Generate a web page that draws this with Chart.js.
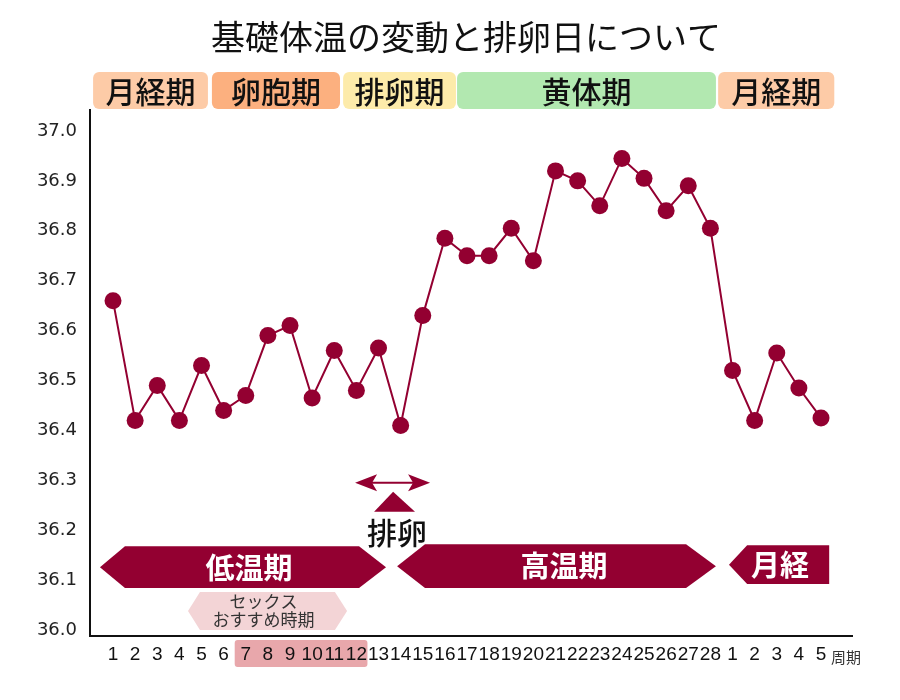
<!DOCTYPE html>
<html lang="ja">
<head>
<meta charset="utf-8">
<title>基礎体温の変動と排卵日について</title>
<script src="https://cdn.jsdelivr.net/npm/chart.js@4.4.1/dist/chart.umd.min.js"></script>
<style>
  html, body { margin: 0; padding: 0; background: #fff; }
  #wrap { width: 900px; height: 700px; }
</style>
</head>
<body>
<div id="wrap"><canvas id="bbtChart" width="900" height="700"></canvas></div>
<script>
const chartTitle = '基礎体温の変動と排卵日について';
const dayLabels = ['1','2','3','4','5','6','7','8','9','10','11','12','13','14','15','16','17','18','19','20',
                   '21','22','23','24','25','26','27','28','1','2','3','4','5'];
const temps = [36.66, 36.42, 36.49, 36.42, 36.53, 36.44, 36.47, 36.59, 36.61, 36.465, 36.56, 36.48, 36.565, 36.41,
               36.63, 36.785, 36.75, 36.75, 36.805, 36.74, 36.92, 36.90, 36.85, 36.945, 36.905, 36.84, 36.89, 36.805,
               36.52, 36.42, 36.555, 36.485, 36.425];
const yTicks = [36.0, 36.1, 36.2, 36.3, 36.4, 36.5, 36.6, 36.7, 36.8, 36.9, 37.0];

const phaseNames = ['月経期', '卵胞期', '排卵期', '黄体期', '月経期'];
const phaseColors = ['#fdcba7', '#fcb07f', '#fdebaa', '#b2e8b0', '#fdcba7'];
const phaseSpans = [[0.1, 5.29], [5.47, 11.26], [11.4, 16.5], [16.55, 28.25], [28.35, 33.6]];

const crimson = '#930031';
const jpFont = '"Noto Sans CJK JP", "Noto Sans", sans-serif';

// six-sided arrow: left tip, left shoulder, right shoulder, right tip
function hexArrow(ctx, x0, x1, x2, x3, top, bottom) {
    const mid = (top + bottom) / 2;
    ctx.beginPath();
    ctx.moveTo(x0, mid);
    ctx.lineTo(x1, top);
    ctx.lineTo(x2, top);
    ctx.lineTo(x3, mid);
    ctx.lineTo(x2, bottom);
    ctx.lineTo(x1, bottom);
    ctx.closePath();
    ctx.fill();
}

const decorPlugin = {
    id: 'decor',
    beforeDraw(chart) {
        const {ctx, scales: {x}} = chart;
        // pink band behind day labels 7-12
        const l = x.getPixelForValue(6.5), r = x.getPixelForValue(12.5);
        ctx.save();
        ctx.fillStyle = '#e8a7ab';
        ctx.beginPath();
        ctx.roundRect(l, 640, r - l, 27, 3);
        ctx.fill();
        ctx.restore();
    },
    afterDraw(chart) {
        const {ctx, scales: {x, y}} = chart;
        const px = v => x.getPixelForValue(v);
        const py = v => y.getPixelForValue(v);
        ctx.save();
        ctx.textAlign = 'center';
        ctx.textBaseline = 'middle';

        // title
        ctx.fillStyle = '#111';
        ctx.font = '34px ' + jpFont;
        ctx.fillText(chartTitle, 466, 37);

        // phase boxes on top
        phaseNames.forEach((name, i) => {
            const l = px(phaseSpans[i][0]), r = px(phaseSpans[i][1]);
            ctx.fillStyle = phaseColors[i];
            ctx.beginPath();
            ctx.roundRect(l, 72, r - l, 37, 6);
            ctx.fill();
            ctx.fillStyle = '#111';
            ctx.font = '500 30px ' + jpFont;
            ctx.fillText(name, (l + r) / 2, 92);
        });

        // low / high / menstruation arrows
        ctx.fillStyle = crimson;
        hexArrow(ctx, px(0.41), px(1.54), px(12.12), px(13.34), py(36.168), py(36.084));
        hexArrow(ctx, px(13.84), px(15.10), px(26.90), px(28.25), py(36.172), py(36.084));
        hexArrow(ctx, px(28.84), px(29.66), px(33.37), px(33.37), py(36.170), py(36.092));
        ctx.fillStyle = '#fff';
        ctx.font = 'bold 29px ' + jpFont;
        ctx.fillText('低温期', px(7.15), py(36.125));
        ctx.fillText('高温期', px(21.38), py(36.128));
        ctx.fillText('月経', px(31.15), py(36.131));

        // ovulation double arrow + triangle
        const ay = py(36.295), al = px(11.94), ar = px(15.33);
        ctx.strokeStyle = crimson;
        ctx.lineWidth = 2;
        ctx.beginPath();
        ctx.moveTo(al + 10, ay);
        ctx.lineTo(ar - 10, ay);
        ctx.stroke();
        ctx.fillStyle = crimson;
        ctx.beginPath();
        ctx.moveTo(al, ay); ctx.lineTo(al + 22, ay - 8.5); ctx.lineTo(al + 17, ay); ctx.lineTo(al + 22, ay + 8.5);
        ctx.closePath(); ctx.fill();
        ctx.beginPath();
        ctx.moveTo(ar, ay); ctx.lineTo(ar - 22, ay - 8.5); ctx.lineTo(ar - 17, ay); ctx.lineTo(ar - 22, ay + 8.5);
        ctx.closePath(); ctx.fill();
        ctx.beginPath();
        ctx.moveTo(px(13.66), py(36.277));
        ctx.lineTo(px(14.65), py(36.237));
        ctx.lineTo(px(12.80), py(36.237));
        ctx.closePath(); ctx.fill();
        ctx.fillStyle = '#111';
        ctx.font = '500 30px ' + jpFont;
        ctx.fillText('排卵', px(13.84), py(36.195));

        // recommended period hexagon
        ctx.fillStyle = '#f3d4d6';
        hexArrow(ctx, px(4.39), px(4.93), px(11.03), px(11.58), py(36.076), py(36.0));
        ctx.fillStyle = '#333';
        ctx.font = '17px ' + jpFont;
        ctx.fillText('セックス', px(7.8), 602);
        ctx.fillText('おすすめ時期', px(7.8), 620);

        // axis unit
        ctx.font = '15px ' + jpFont;
        ctx.fillStyle = '#333';
        ctx.fillText('周期', 846, 657);
        ctx.restore();
    }
};

new Chart(document.getElementById('bbtChart'), {
    type: 'line',
    data: {
        datasets: [{
            data: temps.map((t, i) => ({x: i + 1, y: t})),
            borderColor: crimson,
            backgroundColor: crimson,
            borderWidth: 2,
            pointRadius: 8.5,
            pointHoverRadius: 8.5,
            pointBorderWidth: 0,
            tension: 0
        }]
    },
    options: {
        responsive: false,
        animation: false,
        layout: { padding: { left: 10, right: 48, top: 110, bottom: 0 } },
        plugins: {
            legend: { display: false },
            tooltip: { enabled: false },
            title: { display: false }
        },
        scales: {
            x: {
                type: 'linear',
                min: -0.04,
                max: 34.4,
                grid: { display: false, drawTicks: false },
                border: { display: true, color: '#111', width: 2 },
                afterBuildTicks: s => { s.ticks = dayLabels.map((_, i) => ({value: i + 1})); },
                afterFit: s => { s.height = 64; },
                ticks: {
                    autoSkip: false,
                    maxRotation: 0,
                    minRotation: 0,
                    padding: 7,
                    color: '#111',
                    font: { size: 19, family: '"Liberation Sans", Arial, sans-serif' },
                    callback: v => dayLabels[Math.round(v) - 1]
                }
            },
            y: {
                min: 35.988,
                max: 37.042,
                grid: { display: false, drawTicks: false },
                border: { display: true, color: '#111', width: 2 },
                afterBuildTicks: s => { s.ticks = yTicks.map(v => ({value: v})); },
                afterFit: s => { s.width = 80; },
                ticks: {
                    padding: 13,
                    color: '#222',
                    font: { size: 18, family: '"DejaVu Sans", sans-serif' },
                    callback: v => v.toFixed(1)
                }
            }
        }
    },
    plugins: [decorPlugin]
});
</script>
</body>
</html>
